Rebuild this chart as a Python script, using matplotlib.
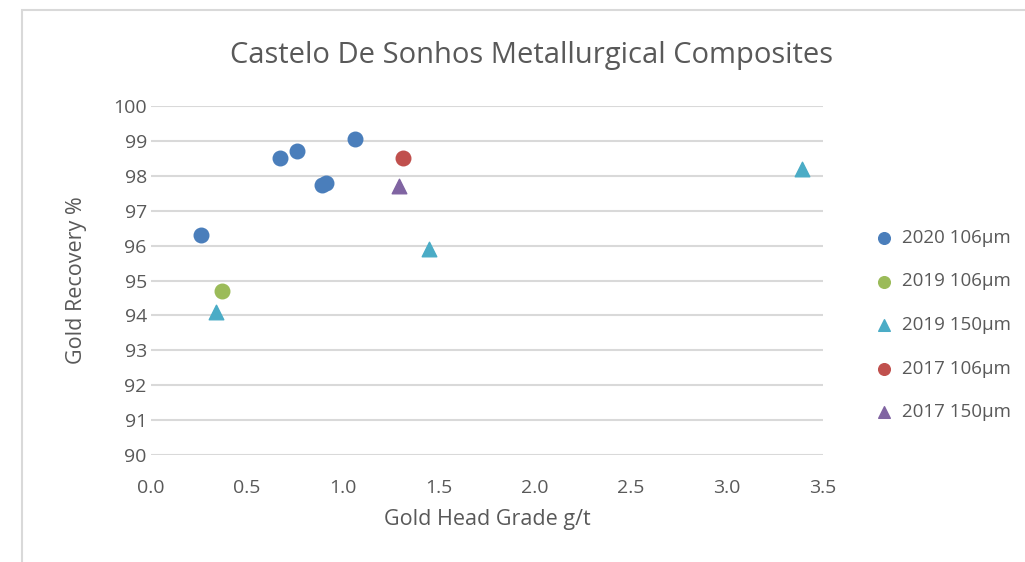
import matplotlib.pyplot as plt
from matplotlib.patches import Rectangle

# Data
grade_2020_106 = [0.26, 0.67, 0.76, 0.89, 0.91, 1.06]
rec_2020_106 = [96.3, 98.5, 98.7, 97.75, 97.8, 99.05]

grade_2019_106 = [0.37]
rec_2019_106 = [94.7]

grade_2019_150 = [0.34, 1.45, 3.39]
rec_2019_150 = [94.1, 95.9, 98.2]

grade_2017_106 = [1.31]
rec_2017_106 = [98.5]

grade_2017_150 = [1.29]
rec_2017_150 = [97.7]

xticks = [0.0, 0.5, 1.0, 1.5, 2.0, 2.5, 3.0, 3.5]
yticks = list(range(90, 101))

plt.rcParams['font.family'] = ['Open Sans', 'DejaVu Sans']
txt = '#595959'
grid = '#d9d9d9'

fig = plt.figure(figsize=(10.25, 5.62), dpi=100)
ax = fig.add_axes([151 / 1025, 1 - 455 / 562, (823 - 151) / 1025, (455 - 106) / 562])

# chart area border (only left and top are visible in the crop)
fig.patches.append(Rectangle((22 / 1025, -0.1), 1.1, 1 - 10 / 562 + 0.1, transform=fig.transFigure,
                             fill=False, edgecolor='#d9d9d9', linewidth=1.5))

ax.scatter(grade_2020_106, rec_2020_106, s=110, marker='o', color='#4a7ebb', label='2020 106µm', zorder=3)
ax.scatter(grade_2019_106, rec_2019_106, s=110, marker='o', color='#9bbb59', label='2019 106µm', zorder=3)
ax.scatter(grade_2019_150, rec_2019_150, s=110, marker='^', color='#4bacc6', label='2019 150µm', zorder=3)
ax.scatter(grade_2017_106, rec_2017_106, s=110, marker='o', color='#c0504d', label='2017 106µm', zorder=3)
ax.scatter(grade_2017_150, rec_2017_150, s=110, marker='^', color='#8064a2', label='2017 150µm', zorder=3)

ax.set_xlim(0, 3.5)
ax.set_ylim(90, 100)
ax.set_xticks(xticks)
ax.set_xticklabels([f'{v:.1f}' for v in xticks])
ax.set_yticks(yticks)
ax.yaxis.grid(True, color=grid, linewidth=1.5)
ax.set_axisbelow(True)
for s in ax.spines.values():
    s.set_visible(False)
ax.tick_params(length=0, labelsize=14, labelcolor=txt)
ax.tick_params(axis='x', pad=17)
ax.tick_params(axis='y', pad=3)

ax.set_xlabel('Gold Head Grade g/t', fontsize=15.5, color=txt, labelpad=9)
ax.set_ylabel('Gold Recovery %', fontsize=15.5, color=txt, labelpad=19)
fig.text(532 / 1025, 1 - 55 / 562, 'Castelo De Sonhos Metallurgical Composites',
         ha='center', va='center', fontsize=21, color=txt)

leg = ax.legend(loc='center left', bbox_to_anchor=(848 / 1025, 1 - 325 / 562),
                bbox_transform=fig.transFigure, frameon=False, fontsize=13.5,
                labelspacing=1.36, handletextpad=0.0, markerscale=0.8)
for t in leg.get_texts():
    t.set_color(txt)

fig.savefig('out.png', dpi=100)
